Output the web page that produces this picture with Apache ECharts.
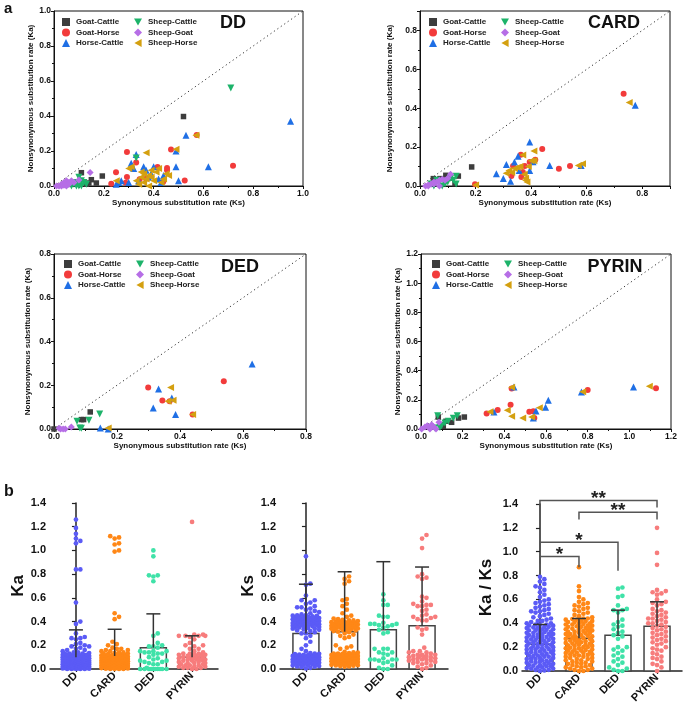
<!DOCTYPE html>
<html><head><meta charset="utf-8">
<script src="https://cdn.jsdelivr.net/npm/echarts@6/dist/echarts.min.js"></script>
<style>html,body{margin:0;padding:0;background:#fff}#c{width:685px;height:707px}</style>
</head><body><div id="c"></div><script>
// ---------- DATA: panel a (pairs [Ks, Ka]) ----------
const pairNames = ['Goat-Cattle','Goat-Horse','Horse-Cattle','Sheep-Cattle','Sheep-Goat','Sheep-Horse'];

const DD_GoatCattle = [[0.11,0.076],[0.194,0.057],[0.14,0.017],[0.15,0.036],[0.17,0.017],[0.52,0.397],[0.13,0.01]];
const DD_GoatHorse = [[0.293,0.195],[0.249,0.078],[0.47,0.208],[0.719,0.116],[0.573,0.292],[0.33,0.134],[0.416,0.109],[0.454,0.103],[0.454,0.09],[0.525,0.031],[0.23,0.013],[0.288,0.019],[0.37,0.042],[0.344,0.038],[0.438,0.023],[0.293,0.052]];
const DD_HorseCattle = [[0.95,0.37],[0.53,0.29],[0.62,0.11],[0.49,0.2],[0.49,0.11],[0.33,0.18],[0.31,0.13],[0.36,0.11],[0.40,0.11],[0.37,0.09],[0.39,0.07],[0.34,0.03],[0.44,0.06],[0.50,0.03],[0.27,0.03],[0.25,0.01],[0.30,0.02],[0.32,0.10],[0.38,0.05],[0.42,0.04],[0.26,0.02],[0.43,0.02]];
const DD_SheepCattle = [[0.71,0.56],[0.33,0.16],[0.08,0.01],[0.09,0.02],[0.10,0.05],[0.11,0.03],[0.12,0.02],[0.07,0.0],[0.10,0.0],[0.06,0.01],[0.13,0.01],[0.11,0.0],[0.09,0.0]];
const DD_SheepGoat = [[0.145,0.077],[0.10,0.035],[0.02,0.0],[0.03,0.01],[0.04,0.02],[0.05,0.03],[0.06,0.02],[0.07,0.03],[0.05,0.0],[0.03,0.0],[0.01,0.0],[0.06,0.01],[0.08,0.02],[0.04,0.005]];
const DD_SheepHorse = [[0.57,0.29],[0.49,0.21],[0.37,0.19],[0.30,0.10],[0.31,0.11],[0.35,0.05],[0.36,0.07],[0.37,0.04],[0.38,0.06],[0.39,0.09],[0.41,0.08],[0.42,0.10],[0.45,0.07],[0.46,0.06],[0.36,0.02],[0.33,0.03],[0.25,0.03],[0.40,0.03],[0.43,0.02],[0.34,0.01],[0.38,0.0],[0.44,0.04],[0.35,0.08],[0.39,0.05]];

const CARD_GoatCattle = [[0.186,0.098],[0.093,0.055],[0.048,0.038],[0.072,0.038],[0.138,0.051],[0.126,0.012],[0.108,0.041]];
const CARD_GoatHorse = [[0.733,0.475],[0.44,0.19],[0.363,0.161],[0.415,0.135],[0.395,0.123],[0.335,0.103],[0.377,0.103],[0.50,0.089],[0.54,0.103],[0.37,0.072],[0.329,0.051],[0.365,0.046],[0.198,0.009]];
const CARD_HorseCattle = [[0.775,0.415],[0.395,0.226],[0.353,0.153],[0.467,0.106],[0.311,0.111],[0.34,0.123],[0.275,0.063],[0.30,0.038],[0.326,0.024],[0.357,0.08],[0.395,0.08],[0.58,0.106],[0.407,0.125]];
const CARD_SheepCattle = [[0.13,0.05],[0.12,0.03],[0.10,0.02],[0.08,0.0],[0.06,0.03],[0.05,0.0],[0.11,0.04],[0.09,0.01],[0.13,0.01],[0.07,0.02],[0.04,0.01]];
const CARD_SheepGoat = [[0.11,0.06],[0.10,0.04],[0.02,0.0],[0.03,0.005],[0.04,0.01],[0.05,0.02],[0.06,0.02],[0.07,0.03],[0.08,0.035],[0.05,0.01],[0.03,0.0],[0.07,0.0],[0.09,0.03]];
const CARD_SheepHorse = [[0.753,0.43],[0.57,0.105],[0.585,0.115],[0.41,0.18],[0.37,0.16],[0.40,0.13],[0.41,0.13],[0.36,0.10],[0.35,0.095],[0.32,0.08],[0.31,0.065],[0.33,0.07],[0.375,0.06],[0.38,0.04],[0.38,0.03],[0.385,0.02],[0.20,0.005],[0.34,0.09],[0.39,0.10]];

const DED_GoatCattle = [[0.115,0.078],[0.087,0.043],[0.094,0.043],[0.0,0.0]];
const DED_GoatHorse = [[0.299,0.19],[0.344,0.13],[0.539,0.218],[0.367,0.127],[0.44,0.066]];
const DED_HorseCattle = [[0.629,0.297],[0.332,0.183],[0.315,0.096],[0.374,0.142],[0.386,0.066],[0.147,0.005],[0.172,0.0]];
const DED_SheepCattle = [[0.145,0.069],[0.111,0.04],[0.073,0.035],[0.082,0.005],[0.087,0.003]];
const DED_SheepGoat = [[0.055,0.009],[0.021,0.0],[0.029,0.0],[0.036,0.0],[0.016,0.003]];
const DED_SheepHorse = [[0.37,0.19],[0.378,0.131],[0.362,0.127],[0.44,0.066],[0.172,0.005]];

const PYRIN_GoatCattle = [[0.083,0.082],[0.208,0.082],[0.18,0.075],[0.147,0.046],[0.12,0.053],[0.096,0.03],[0.107,0.018]];
const PYRIN_GoatHorse = [[1.128,0.279],[0.80,0.267],[0.435,0.277],[0.43,0.167],[0.368,0.13],[0.315,0.107],[0.52,0.119],[0.539,0.121],[0.544,0.075]];
const PYRIN_HorseCattle = [[1.02,0.288],[0.446,0.288],[0.77,0.254],[0.611,0.197],[0.598,0.149],[0.552,0.123],[0.35,0.117],[0.539,0.075]];
const PYRIN_SheepCattle = [[0.08,0.091],[0.174,0.091],[0.155,0.073],[0.131,0.053],[0.115,0.041],[0.099,0.023],[0.091,0.011],[0.067,0.007]];
const PYRIN_SheepGoat = [[0.086,0.046],[0.03,0.023],[0.043,0.0],[0.003,0.0],[0.059,0.018],[0.072,0.0],[0.019,0.014],[0.051,0.03]];
const PYRIN_SheepHorse = [[1.096,0.293],[0.435,0.286],[0.776,0.256],[0.568,0.146],[0.414,0.128],[0.331,0.119],[0.435,0.087],[0.531,0.082],[0.488,0.075]];

// ---------- DATA: panel b ----------
const groups = ['DD','CARD','DED','PYRIN'];

const Ka_DD = [1.26,1.19,1.14,1.10,1.08,1.06,0.84,0.84,0.56,0.40,0.38,0.30,0.27,0.26,0.26,0.25,0.22,0.21,0.20,0.19,0.19,0.18,0.17,0.16,0.16,0.15,0.14,0.14,0.135,0.13,0.13,0.128,0.125,0.12,0.12,0.118,0.115,0.112,0.11,0.11,0.108,0.105,0.102,0.10,0.10,0.10,0.098,0.095,0.093,0.09,0.09,0.088,0.085,0.083,0.08,0.08,0.08,0.078,0.075,0.073,0.07,0.07,0.068,0.065,0.063,0.06,0.06,0.06,0.058,0.055,0.053,0.05,0.05,0.05,0.048,0.045,0.043,0.04,0.04,0.04,0.038,0.035,0.033,0.03,0.03,0.03,0.028,0.025,0.023,0.02,0.02,0.02,0.018,0.015,0.013,0.01,0.01,0.01,0.008,0.005,0.003,0.0,0.0,0.0,0.0,0.0,0.12,0.11,0.10,0.09,0.08,0.07,0.06,0.05,0.04,0.03,0.02,0.01,0.115,0.105,0.095,0.085,0.075,0.065,0.055,0.045,0.035,0.025,0.015,0.005];
const Ka_CARD = [1.12,1.11,1.10,1.06,1.05,1.00,0.99,0.47,0.44,0.42,0.23,0.21,0.20,0.18,0.17,0.17,0.16,0.16,0.15,0.15,0.14,0.14,0.135,0.13,0.13,0.125,0.12,0.12,0.12,0.115,0.11,0.11,0.11,0.105,0.10,0.10,0.10,0.095,0.09,0.09,0.09,0.085,0.08,0.08,0.08,0.075,0.07,0.07,0.07,0.065,0.06,0.06,0.06,0.055,0.05,0.05,0.05,0.045,0.04,0.04,0.04,0.035,0.03,0.03,0.03,0.025,0.02,0.02,0.02,0.015,0.01,0.01,0.01,0.005,0.0,0.0,0.0,0.0,0.118,0.108,0.098,0.088,0.078,0.068,0.058,0.048,0.038,0.028,0.018,0.008,0.112,0.102,0.092,0.082,0.072,0.062,0.052,0.042,0.032,0.022,0.012,0.002];
const Ka_DED = [1.00,0.95,0.79,0.79,0.78,0.74,0.30,0.28,0.22,0.20,0.19,0.19,0.18,0.15,0.15,0.15,0.14,0.14,0.13,0.13,0.12,0.10,0.09,0.08,0.07,0.07,0.06,0.06,0.05,0.04,0.04,0.01,0.0,0.0,0.0,0.0,0.0,0.0,0.0,0.0,0.0,0.0];
const Ka_PYRIN = [1.24,0.29,0.29,0.28,0.28,0.28,0.28,0.27,0.25,0.22,0.20,0.20,0.19,0.17,0.17,0.15,0.14,0.13,0.13,0.13,0.12,0.12,0.12,0.12,0.11,0.11,0.11,0.10,0.10,0.09,0.09,0.09,0.09,0.08,0.08,0.08,0.08,0.07,0.07,0.07,0.06,0.06,0.05,0.05,0.05,0.04,0.04,0.03,0.03,0.03,0.02,0.02,0.02,0.01,0.01,0.01,0.0,0.0];
const Ka_mean = [0.10,0.11,0.18,0.10];
const Ka_upper = [0.33,0.335,0.465,0.28];

const Ks_DD = [0.95,0.72,0.71,0.62,0.58,0.58,0.56,0.55,0.53,0.52,0.52,0.51,0.50,0.49,0.48,0.47,0.46,0.455,0.452,0.45,0.448,0.445,0.44,0.44,0.438,0.435,0.432,0.43,0.43,0.428,0.425,0.422,0.42,0.42,0.418,0.415,0.412,0.41,0.41,0.408,0.405,0.402,0.40,0.40,0.398,0.395,0.392,0.39,0.39,0.388,0.385,0.382,0.38,0.38,0.378,0.375,0.372,0.37,0.37,0.368,0.365,0.36,0.36,0.355,0.35,0.35,0.345,0.34,0.34,0.335,0.33,0.325,0.32,0.31,0.30,0.30,0.28,0.26,0.23,0.20,0.17,0.15,0.135,0.13,0.128,0.125,0.122,0.12,0.118,0.115,0.112,0.11,0.11,0.108,0.105,0.102,0.10,0.10,0.098,0.095,0.092,0.09,0.09,0.088,0.085,0.082,0.08,0.08,0.078,0.075,0.072,0.07,0.07,0.068,0.065,0.062,0.06,0.06,0.058,0.055,0.052,0.05,0.05,0.048,0.045,0.042,0.04,0.04,0.035,0.032,0.03,0.025,0.022,0.02,0.015,0.01,0.005];
const Ks_CARD = [0.78,0.76,0.74,0.72,0.59,0.58,0.55,0.53,0.50,0.47,0.45,0.44,0.425,0.42,0.415,0.41,0.41,0.405,0.40,0.40,0.398,0.395,0.39,0.39,0.388,0.385,0.38,0.38,0.378,0.375,0.372,0.37,0.37,0.368,0.365,0.362,0.36,0.36,0.358,0.355,0.352,0.35,0.35,0.348,0.345,0.342,0.34,0.34,0.335,0.33,0.33,0.325,0.32,0.315,0.31,0.30,0.29,0.28,0.27,0.26,0.20,0.19,0.18,0.17,0.145,0.14,0.138,0.135,0.13,0.13,0.128,0.125,0.122,0.12,0.12,0.118,0.115,0.112,0.11,0.11,0.108,0.105,0.102,0.10,0.10,0.098,0.095,0.092,0.09,0.09,0.088,0.085,0.082,0.08,0.08,0.078,0.075,0.072,0.07,0.07,0.068,0.065,0.062,0.06,0.06,0.055,0.052,0.05,0.048,0.045,0.042,0.04,0.038,0.035,0.032,0.03,0.028,0.025,0.022,0.02];
const Ks_DED = [0.63,0.58,0.54,0.54,0.45,0.44,0.44,0.39,0.38,0.38,0.38,0.37,0.37,0.36,0.35,0.33,0.31,0.30,0.17,0.17,0.17,0.14,0.14,0.13,0.12,0.09,0.08,0.08,0.08,0.08,0.07,0.06,0.05,0.03,0.01,0.0,0.0];
const Ks_PYRIN = [1.13,1.10,1.02,0.80,0.78,0.77,0.76,0.61,0.60,0.57,0.55,0.54,0.54,0.53,0.53,0.50,0.49,0.46,0.45,0.44,0.44,0.43,0.42,0.41,0.41,0.35,0.34,0.33,0.29,0.18,0.15,0.15,0.14,0.14,0.13,0.12,0.12,0.12,0.11,0.11,0.11,0.10,0.10,0.10,0.09,0.09,0.08,0.08,0.08,0.07,0.07,0.06,0.06,0.05,0.05,0.04,0.03,0.02,0.01,0.0];
const Ks_mean = [0.30,0.315,0.33,0.365];
const Ks_upper = [0.715,0.82,0.905,0.86];

const KaKs_DD = [0.79,0.77,0.75,0.73,0.71,0.70,0.68,0.66,0.64,0.62,0.60,0.59,0.58,0.57,0.56,0.55,0.54,0.53,0.52,0.51,0.50,0.50,0.49,0.48,0.47,0.46,0.45,0.44,0.43,0.42,0.42,0.41,0.40,0.40,0.39,0.39,0.38,0.38,0.37,0.37,0.36,0.36,0.35,0.35,0.34,0.34,0.33,0.33,0.32,0.32,0.31,0.31,0.30,0.30,0.29,0.29,0.28,0.28,0.27,0.27,0.26,0.26,0.25,0.25,0.24,0.24,0.23,0.23,0.22,0.22,0.21,0.21,0.20,0.20,0.19,0.19,0.18,0.18,0.17,0.17,0.16,0.16,0.15,0.15,0.14,0.14,0.13,0.13,0.12,0.12,0.11,0.11,0.10,0.10,0.09,0.09,0.08,0.08,0.07,0.07,0.06,0.06,0.05,0.05,0.04,0.04,0.03,0.03,0.02,0.02,0.01,0.01,0.0,0.385,0.365,0.345,0.325,0.305,0.285,0.265,0.245,0.225,0.205,0.185,0.165,0.145,0.125,0.105,0.085,0.065,0.045,0.025,0.005];
const KaKs_CARD = [0.87,0.71,0.67,0.62,0.60,0.58,0.57,0.56,0.55,0.54,0.53,0.52,0.51,0.50,0.49,0.48,0.47,0.46,0.45,0.44,0.44,0.43,0.43,0.42,0.42,0.41,0.41,0.40,0.40,0.39,0.39,0.38,0.38,0.37,0.37,0.36,0.36,0.35,0.35,0.34,0.34,0.33,0.33,0.32,0.32,0.31,0.31,0.30,0.30,0.29,0.29,0.28,0.28,0.27,0.27,0.26,0.26,0.25,0.25,0.24,0.24,0.23,0.23,0.22,0.22,0.21,0.21,0.20,0.20,0.19,0.19,0.18,0.18,0.17,0.17,0.16,0.16,0.15,0.15,0.14,0.14,0.13,0.13,0.12,0.12,0.11,0.11,0.10,0.10,0.09,0.09,0.08,0.08,0.07,0.07,0.06,0.06,0.05,0.05,0.04,0.04,0.03,0.03,0.02,0.02,0.01,0.01,0.0,0.0,0.435,0.415,0.395,0.375,0.355,0.335,0.315,0.295,0.275,0.255,0.235,0.215,0.195,0.175,0.155,0.135];
const KaKs_DED = [0.70,0.69,0.63,0.62,0.55,0.52,0.51,0.51,0.49,0.43,0.41,0.39,0.38,0.37,0.35,0.33,0.32,0.30,0.29,0.27,0.20,0.20,0.18,0.17,0.15,0.13,0.12,0.10,0.08,0.07,0.05,0.03,0.02,0.01,0.0,0.0];
const KaKs_PYRIN = [1.20,0.99,0.89,0.68,0.67,0.66,0.65,0.64,0.60,0.58,0.57,0.56,0.55,0.52,0.51,0.50,0.49,0.48,0.47,0.46,0.45,0.44,0.44,0.43,0.42,0.41,0.40,0.40,0.39,0.38,0.37,0.36,0.35,0.34,0.33,0.32,0.31,0.30,0.29,0.28,0.27,0.26,0.25,0.24,0.23,0.22,0.20,0.19,0.18,0.17,0.15,0.14,0.12,0.11,0.10,0.08,0.06,0.05,0.03,0.0];
const KaKs_mean = [0.225,0.275,0.30,0.375];
const KaKs_upper = [0.39,0.44,0.51,0.58];

// significance brackets: [fromIndex, toIndex, top, leftEnd, rightEnd]
const sigBrackets = [[0,3,1.43,1.38,1.37],[1,3,1.33,1.27,1.27],[0,2,1.08,1.01,0.84],[0,1,0.96,0.90,0.87]];
const sigLabels = ['**','**','*','*'];

// ---------- STYLE / LAYOUT ----------
const FONT = '"Liberation Sans", Arial, Helvetica, sans-serif';
const pairColors = ['#3d3d3d','#f23b3b','#1f6fe5','#1db36a','#b66ee6','#d4a010'];
const pairSymbols = ['rect','circle','triangle','path://M0,0L10,0L5,9Z','diamond','path://M9,0L9,10L0,5Z'];
const pairSizes = [5.5,6,7,7,7,7];
const groupColors = ['#5b5bf6','#ff8716','#3fe2a8','#f77c7c'];

const scatterPanels = [
  {title:'DD', sets:[DD_GoatCattle,DD_GoatHorse,DD_HorseCattle,DD_SheepCattle,DD_SheepGoat,DD_SheepHorse], max:1.0,
   grid:{left:54,top:11,width:249,height:175}, legend:[62,18], titlePos:[233,23], yGap:18},
  {title:'CARD', sets:[CARD_GoatCattle,CARD_GoatHorse,CARD_HorseCattle,CARD_SheepCattle,CARD_SheepGoat,CARD_SheepHorse], max:0.9,
   grid:{left:420,top:11,width:250,height:175}, legend:[429,18], titlePos:[614,23], yGap:26},
  {title:'DED', sets:[DED_GoatCattle,DED_GoatHorse,DED_HorseCattle,DED_SheepCattle,DED_SheepGoat,DED_SheepHorse], max:0.8,
   grid:{left:54,top:254,width:252,height:175}, legend:[64,260], titlePos:[240,267], yGap:22},
  {title:'PYRIN', sets:[PYRIN_GoatCattle,PYRIN_GoatHorse,PYRIN_HorseCattle,PYRIN_SheepCattle,PYRIN_SheepGoat,PYRIN_SheepHorse], max:1.2,
   grid:{left:421,top:254,width:250,height:175}, legend:[432,260], titlePos:[615,267], yGap:19}
];

const dotPanels = [
  {name:'Ka', values:[Ka_DD,Ka_CARD,Ka_DED,Ka_PYRIN], mean:Ka_mean, upper:Ka_upper,
   grid:{left:50,top:503,width:168,height:166}, xmin:-0.67, xmax:3.67, nameGap:15},
  {name:'Ks', values:[Ks_DD,Ks_CARD,Ks_DED,Ks_PYRIN], mean:Ks_mean, upper:Ks_upper,
   grid:{left:280,top:503,width:168,height:166}, xmin:-0.67, xmax:3.67, nameGap:15},
  {name:'Ka / Ks', values:[KaKs_DD,KaKs_CARD,KaKs_DED,KaKs_PYRIN], mean:KaKs_mean, upper:KaKs_upper,
   grid:{left:522,top:504,width:160,height:167}, xmin:-0.46, xmax:3.64, nameGap:27, sig:true}
];

function isMult(v, step){ return Math.abs(v/step - Math.round(v/step)) < 1e-6; }

// deterministic beeswarm layout (pixel based), returns [xOffsetInDataUnits, value]
function swarm(vals, pxX, pxY){
  const d = 4.4, step = 2.2, maxOff = 14;
  const placed = [], res = [];
  const sorted = vals.slice().sort((a,b)=>a-b);
  const nSteps = Math.floor(maxOff/step)*2;
  for (const v of sorted){
    const y = v*pxY;
    let best = 0, bestScore = -1;
    for (let k=0;k<=nSteps;k++){
      const off = (k%2 ? 1 : -1) * Math.ceil(k/2) * step;
      let minD = Infinity;
      for (const p of placed){
        if (Math.abs(p[1]-y) < d){ const dd = Math.hypot(p[0]-off, p[1]-y); if (dd < minD) minD = dd; }
      }
      if (minD >= d){ best = off; bestScore = Infinity; break; }
      if (minD > bestScore){ bestScore = minD; best = off; }
    }
    placed.push([best, y]);
    res.push([best/pxX, v]);
  }
  return res;
}

const grids=[], xAxes=[], yAxes=[], series=[], legends=[], graphics=[];
const axisFontTop = {fontFamily:FONT, fontWeight:'bold', fontSize:8.5, color:'#111'};

scatterPanels.forEach((p,i)=>{
  grids.push(Object.assign({show:true, borderColor:'#111', borderWidth:1, backgroundColor:'rgba(0,0,0,0)'}, p.grid));
  const common = {
    gridIndex:i, type:'value', min:0, max:p.max, interval:0.2, nameLocation:'middle',
    nameTextStyle:{fontFamily:FONT, fontWeight:'bold', fontSize:8, color:'#111'},
    axisLine:{show:true, onZero:false, lineStyle:{color:'#111', width:1}},
    axisTick:{show:true, length:3, lineStyle:{color:'#111'}},
    minorTick:{show:true, splitNumber:2, length:2, lineStyle:{color:'#111'}},
    splitLine:{show:false},
    axisLabel:Object.assign({margin:3, formatter:v=>isMult(v,0.2)?v.toFixed(1):''}, axisFontTop)
  };
  xAxes.push(Object.assign({}, common, {name:'Synonymous substitution rate (Ks)', nameGap:12}));
  yAxes.push(Object.assign({}, common, {name:'Nonsynonymous substitution rate (Ka)', nameGap:p.yGap}));
  series.push({type:'line', xAxisIndex:i, yAxisIndex:i, data:[[0,0],[p.max,p.max]], symbol:'none', silent:true, z:1,
    lineStyle:{color:'#333', width:1, type:[1.2,3]}});
  p.sets.forEach((set,j)=>{
    series.push({type:'scatter', name:pairNames[j], xAxisIndex:i, yAxisIndex:i, data:set,
      symbol:pairSymbols[j], symbolSize:pairSizes[j], z:3,
      itemStyle:{color:pairColors[j], opacity:1}});
  });
  [0,1].forEach(c=>{
    legends.push({left:p.legend[0]+c*72, top:p.legend[1], orient:'vertical', itemGap:2.5, itemWidth:8, itemHeight:8,
      padding:0, selectedMode:false,
      data:pairNames.slice(c*3,c*3+3).map((n,q)=>({name:n, icon:pairSymbols[c*3+q]})),
      textStyle:{fontFamily:FONT, fontWeight:'bold', fontSize:8, color:'#222', padding:[0,0,0,1]}});
  });
  graphics.push({type:'text', x:p.titlePos[0], y:p.titlePos[1],
    style:{text:p.title, font:'bold 18px '+FONT, fill:'#111', align:'center', verticalAlign:'middle'}});
});

dotPanels.forEach((p,k)=>{
  const gi = 4+k;
  grids.push(p.grid);
  const pxX = p.grid.width/(p.xmax-p.xmin), pxY = p.grid.height/1.4;
  xAxes.push({gridIndex:gi, type:'value', min:p.xmin, max:p.xmax,
    axisLine:{show:true, onZero:false, lineStyle:{color:'#222', width:1.5}},
    axisTick:{show:true, customValues:[0,1,2,3], length:3, lineStyle:{color:'#222', width:1.2}},
    splitLine:{show:false},
    axisLabel:{customValues:[0,1,2,3], formatter:v=>groups[Math.round(v)], rotate:45, margin:5,
      fontFamily:FONT, fontWeight:'bold', fontSize:11, color:'#111'}});
  yAxes.push({gridIndex:gi, type:'value', min:0, max:1.4, interval:0.2, name:p.name, nameLocation:'middle', nameGap:p.nameGap,
    nameTextStyle:{fontFamily:FONT, fontWeight:'bold', fontSize:17, color:'#111'},
    axisLine:{show:true, lineStyle:{color:'#222', width:1.5}},
    axisTick:{show:true, length:4, lineStyle:{color:'#222', width:1.2}},
    splitLine:{show:false},
    axisLabel:{formatter:v=>v.toFixed(1), margin:4, fontFamily:FONT, fontWeight:'bold', fontSize:11, color:'#111'}});
  // bars
  series.push({type:'custom', xAxisIndex:gi, yAxisIndex:gi, z:1, silent:true,
    data:groups.map((g,j)=>[j, p.mean[j]]),
    renderItem:(params, api)=>{
      const a = api.coord([api.value(0),0]), b = api.coord([api.value(0), api.value(1)]);
      return {type:'rect', shape:{x:a[0]-13, y:b[1], width:26, height:a[1]-b[1]},
        style:{fill:'#fff', stroke:'#444', lineWidth:1.5}};
    }});
  // dots
  groups.forEach((g,j)=>{
    series.push({type:'scatter', xAxisIndex:gi, yAxisIndex:gi, z:2, silent:true, symbolSize:4.7,
      itemStyle:{color:groupColors[j], opacity:1},
      data:swarm(p.values[j], pxX, pxY).map(d=>[j+d[0], d[1]])});
  });
  // error bars (mean + SD)
  series.push({type:'custom', xAxisIndex:gi, yAxisIndex:gi, z:4, silent:true,
    data:groups.map((g,j)=>[j, p.mean[j], p.upper[j]]),
    renderItem:(params, api)=>{
      const x = api.value(0), m = api.coord([x, api.value(1)]), t = api.coord([x, api.value(2)]);
      return {type:'group', children:[
        {type:'line', shape:{x1:m[0], y1:m[1], x2:t[0], y2:t[1]}, style:{stroke:'#333', lineWidth:1.5}},
        {type:'line', shape:{x1:t[0]-7, y1:t[1], x2:t[0]+7, y2:t[1]}, style:{stroke:'#333', lineWidth:1.5}}]};
    }});
  if (p.sig){
    series.push({type:'custom', xAxisIndex:gi, yAxisIndex:gi, z:5, silent:true, clip:false,
      data:sigBrackets,
      renderItem:(params, api)=>{
        const x1=api.value(0), x2=api.value(1), top=api.value(2);
        const a=api.coord([x1, api.value(3)]), b=api.coord([x1, top]), c=api.coord([x2, top]), d=api.coord([x2, api.value(4)]);
        return {type:'group', children:[
          {type:'polyline', shape:{points:[a,b,c,d]}, style:{stroke:'#555', lineWidth:1.5, fill:null}},
          {type:'text', x:(b[0]+c[0])/2, y:b[1]+8, style:{text:sigLabels[params.dataIndex], font:'bold 19px '+FONT,
            fill:'#222', align:'center', verticalAlign:'bottom'}}]};
      }});
  }
});

graphics.push({type:'text', x:4, y:1, style:{text:'a', font:'bold 15px '+FONT, fill:'#111'}});
graphics.push({type:'text', x:4, y:484, style:{text:'b', font:'bold 16px '+FONT, fill:'#111'}});

const chart = echarts.init(document.getElementById('c'), null, {renderer:'canvas'});
chart.setOption({
  animation:false, backgroundColor:'#fff',
  textStyle:{fontFamily:FONT},
  grid:grids, xAxis:xAxes, yAxis:yAxes, legend:legends, series:series, graphic:graphics
});
</script></body></html>
